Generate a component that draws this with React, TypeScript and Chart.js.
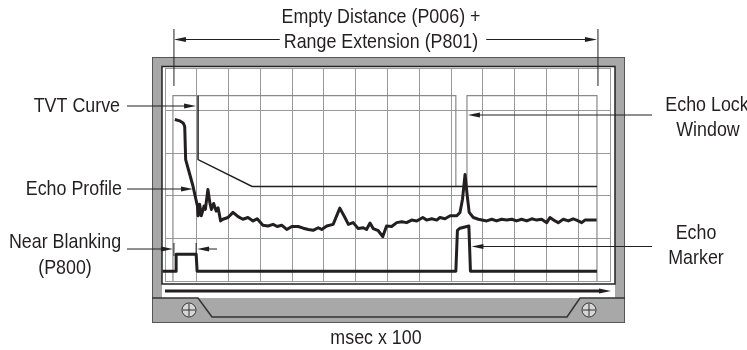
import React, { useEffect, useRef } from "react";
import { Chart, registerables } from "chart.js";
Chart.register(...registerables);

// Echo profile (thick trace)
const profileX = [0.31,0.46,0.57,0.62,0.65,0.78,0.88,0.95,1.02,1.04,1.09,1.14,1.23,1.27,1.35,1.41,1.46,1.53,1.61,1.67,1.75,1.82,1.98,2.14,2.30,2.45,2.61,2.77,2.90,3.08,3.24,3.40,3.53,3.67,3.83,3.99,4.19,4.35,4.51,4.66,4.82,4.93,5.09,5.29,5.50,5.66,5.77,5.92,6.08,6.24,6.34,6.45,6.55,6.71,6.85,6.97,7.13,7.29,7.45,7.60,7.76,7.92,8.11,8.23,8.39,8.55,8.65,8.81,8.97,9.18,9.28,9.36,9.44,9.51,9.57,9.70,9.86,10.12,10.28,10.43,10.59,10.75,10.91,11.06,11.22,11.38,11.54,11.69,11.85,12.01,12.11,12.27,12.37,12.53,12.69,12.84,12.95,13.11,13.21,13.37,13.58];
const profileY = [3.79,3.76,3.71,3.63,2.85,2.50,2.23,1.99,1.76,1.53,1.80,1.53,1.76,1.68,2.15,1.84,1.68,1.82,1.64,1.72,1.41,1.45,1.49,1.61,1.51,1.45,1.49,1.41,1.46,1.31,1.29,1.33,1.28,1.31,1.21,1.28,1.28,1.24,1.21,1.19,1.25,1.21,1.29,1.33,1.71,1.49,1.33,1.37,1.23,1.25,1.21,1.36,1.23,1.18,1.04,1.29,1.28,1.37,1.39,1.37,1.43,1.41,1.49,1.43,1.46,1.43,1.49,1.46,1.53,1.53,1.61,1.92,2.50,1.99,1.61,1.49,1.45,1.41,1.45,1.41,1.45,1.43,1.45,1.41,1.45,1.41,1.46,1.43,1.45,1.37,1.49,1.41,1.37,1.45,1.41,1.46,1.43,1.37,1.43,1.43,1.43];

// Near blanking + echo marker trace
const markerX = [-0.08,0.35,0.35,0.98,1.01,9.15,9.20,9.28,9.56,9.61,13.59];
const markerY = [0.23,0.23,0.63,0.63,0.23,0.23,1.19,1.24,1.29,0.23,0.23];

// TVT curve
const tvtX = [1.04,1.04,2.74,13.59];
const tvtY = [4.35,2.85,2.22,2.22];

// Echo lock window outline
const windowX = [0.25,0.25,9.15,9.15,9.50,9.50,13.59,13.59];
const windowY = [0,4.35,4.35,2.22,2.22,4.35,4.35,0];

const xMin = 0, xMax = 14, yMin = 0, yMax = 5;

const topLabels = ["Empty Distance (P006) +", "Range Extension (P801)"];
const leftLabels = ["TVT Curve", "Echo Profile", "Near Blanking", "(P800)"];
const rightLabels = ["Echo Lock", "Window", "Echo", "Marker"];
const axisLabel = "msec x 100";

const FONT = '"Liberation Sans", Arial, sans-serif';
const SQUEEZE = 0.85;
const INK = "#231f20";
const FRAME = "#a8a8a8";

function pts(xs: number[], ys: number[]) {
  return xs.map((x, i) => ({ x, y: ys[i] }));
}

function text(ctx: CanvasRenderingContext2D, s: string, x: number, y: number, align: CanvasTextAlign) {
  ctx.save();
  ctx.translate(x, y);
  ctx.scale(SQUEEZE, 1);
  ctx.textAlign = align;
  ctx.fillText(s, 0, 0);
  ctx.restore();
}

function arrowHead(ctx: CanvasRenderingContext2D, tipX: number, tipY: number, dir: number) {
  ctx.beginPath();
  ctx.moveTo(tipX, tipY);
  ctx.lineTo(tipX - dir * 12, tipY - 2.5);
  ctx.lineTo(tipX - dir * 12, tipY + 2.5);
  ctx.closePath();
  ctx.fill();
}

function hLine(ctx: CanvasRenderingContext2D, x1: number, x2: number, y: number, w = 1) {
  ctx.lineWidth = w;
  ctx.beginPath();
  ctx.moveTo(x1, y);
  ctx.lineTo(x2, y);
  ctx.stroke();
}

function vLine(ctx: CanvasRenderingContext2D, x: number, y1: number, y2: number, w = 1) {
  ctx.lineWidth = w;
  ctx.beginPath();
  ctx.moveTo(x, y1);
  ctx.lineTo(x, y2);
  ctx.stroke();
}

function screw(ctx: CanvasRenderingContext2D, cx: number, cy: number) {
  ctx.beginPath();
  ctx.arc(cx, cy, 7, 0, Math.PI * 2);
  ctx.fillStyle = "#d6d6d6";
  ctx.fill();
  ctx.strokeStyle = "#333";
  ctx.lineWidth = 1;
  ctx.stroke();
  hLine(ctx, cx - 6, cx + 6, cy, 1);
  vLine(ctx, cx, cy - 6, cy + 6, 1);
}

const framePlugin = {
  id: "frame",
  beforeDraw(chart: any) {
    const { ctx, chartArea: ca } = chart;
    const L = ca.left, R = ca.right, T = ca.top, B = ca.bottom;
    ctx.save();
    ctx.fillStyle = FRAME;
    ctx.fillRect(L - 13, T - 11, R - L + 28, B - T + 53);
    ctx.strokeStyle = "#555";
    ctx.lineWidth = 1;
    ctx.strokeRect(L - 12.5, T - 10.5, R - L + 27, B - T + 52);
    ctx.fillStyle = "#ffffff";
    ctx.fillRect(L - 3, T - 1, R - L + 8, B - T + 18);
    ctx.strokeStyle = "#222";
    ctx.lineWidth = 1.5;
    ctx.strokeRect(L - 3, T - 1.5, R - L + 8, B - T + 4.5);
    ctx.strokeStyle = "#333";
    ctx.lineWidth = 1.5;
    ctx.beginPath();
    ctx.moveTo(L - 13, B + 17);
    ctx.lineTo(L + 33, B + 17);
    ctx.lineTo(L + 47, B + 36);
    ctx.lineTo(R - 43, B + 36);
    ctx.lineTo(R - 30, B + 17);
    ctx.lineTo(R + 15, B + 17);
    ctx.stroke();
    ctx.strokeStyle = INK;
    ctx.fillStyle = INK;
    hLine(ctx, L, R - 8, B + 10, 3);
    arrowHead(ctx, R + 1, B + 10, 1);
    screw(ctx, L + 24, B + 29);
    screw(ctx, R - 21, B + 29);
    ctx.restore();
  },
  afterDraw(chart: any) {
    const { ctx, chartArea: ca, scales } = chart;
    const xs = scales.x;
    const T = ca.top;
    ctx.save();
    ctx.strokeStyle = INK;
    ctx.fillStyle = INK;
    ctx.font = `21px ${FONT}`;
    ctx.textBaseline = "alphabetic";

    const wl = xs.getPixelForValue(windowX[0]);
    const wr = xs.getPixelForValue(windowX[windowX.length - 1]);

    vLine(ctx, wl + 1, T - 39, T + 18, 1);
    vLine(ctx, wr + 1, T - 39, T + 18, 1);
    const cx = 381;
    text(ctx, topLabels[0], cx, 23, "center");
    text(ctx, topLabels[1], cx, 48, "center");
    const half = (ctx.measureText(topLabels[1]).width * SQUEEZE) / 2;
    hLine(ctx, wl + 10, cx - half - 4, 39.5, 1);
    arrowHead(ctx, wl + 1, 39.5, -1);
    hLine(ctx, cx + half + 8, wr - 10, 39.5, 1);
    arrowHead(ctx, wr, 39.5, 1);

    text(ctx, leftLabels[0], 120, 112, "right");
    text(ctx, leftLabels[1], 122, 195, "right");
    text(ctx, leftLabels[2], 65, 248, "center");
    text(ctx, leftLabels[3], 65, 274, "center");

    const tvtPx = xs.getPixelForValue(tvtX[0]);
    hLine(ctx, 127, tvtPx - 10, 106, 1);
    arrowHead(ctx, tvtPx - 2, 106, 1);
    hLine(ctx, 127, 183, 189, 1);
    arrowHead(ctx, 193, 189, 1);
    hLine(ctx, 127, wl - 10, 249, 1);
    arrowHead(ctx, wl, 249, 1);
    const nbR = xs.getPixelForValue(markerX[3]);
    vLine(ctx, wl + 1, 243, 256, 1);
    vLine(ctx, nbR, 243, 256, 1);
    hLine(ctx, nbR + 10, 217, 249, 1);
    arrowHead(ctx, nbR + 1, 249, -1);

    text(ctx, rightLabels[0], 707, 111, "center");
    text(ctx, rightLabels[1], 708, 136, "center");
    text(ctx, rightLabels[2], 696, 239, "center");
    text(ctx, rightLabels[3], 696, 264, "center");
    const ewPx = xs.getPixelForValue(windowX[5]);
    hLine(ctx, ewPx + 10, 652, 115, 1);
    arrowHead(ctx, ewPx + 1, 115, -1);
    const emPx = xs.getPixelForValue(markerX[9]);
    hLine(ctx, emPx + 10, 652, 246.5, 1);
    arrowHead(ctx, emPx + 1, 246.5, -1);

    text(ctx, axisLabel, 376, 344, "center");
    ctx.restore();
  },
};

export default function App() {
  const ref = useRef<HTMLCanvasElement | null>(null);
  useEffect(() => {
    if (!ref.current) return;
    const chart = new Chart(ref.current, {
      type: "line",
      data: {
        datasets: [
          { data: pts(profileX, profileY), borderColor: INK, borderWidth: 3, pointRadius: 0, tension: 0, clip: false as any, borderJoinStyle: "round" },
          { data: pts(markerX, markerY), borderColor: INK, borderWidth: 3, pointRadius: 0, tension: 0, clip: false as any, borderJoinStyle: "round" },
          { data: pts(tvtX, tvtY), borderColor: INK, borderWidth: 1.5, pointRadius: 0, tension: 0, clip: false as any },
          { data: pts(windowX, windowY), borderColor: "#8a8a8a", borderWidth: 1.2, pointRadius: 0, tension: 0, clip: false as any },
        ],
      },
      options: {
        animation: false,
        responsive: false,
        maintainAspectRatio: false,
        layout: { padding: { left: 165, right: 137, top: 68, bottom: 69 } },
        plugins: { legend: { display: false }, tooltip: { enabled: false } },
        scales: {
          x: {
            type: "linear", min: xMin, max: xMax,
            ticks: { display: false, stepSize: 1 },
            grid: { color: "#9a9a9a", lineWidth: 1, drawTicks: false },
            border: { display: true, color: "#9a9a9a" },
          },
          y: {
            type: "linear", min: yMin, max: yMax,
            ticks: { display: false, stepSize: 1 },
            grid: { color: "#9a9a9a", lineWidth: 1, drawTicks: false },
            border: { display: true, color: "#9a9a9a" },
          },
        },
      },
      plugins: [framePlugin],
    });
    return () => chart.destroy();
  }, []);
  return (
    <div style={{ position: "fixed", left: 0, top: 0, width: 747, height: 350, background: "#fff" }}>
      <canvas ref={ref} width={747} height={350} style={{ width: 747, height: 350, display: "block" }} />
    </div>
  );
}
